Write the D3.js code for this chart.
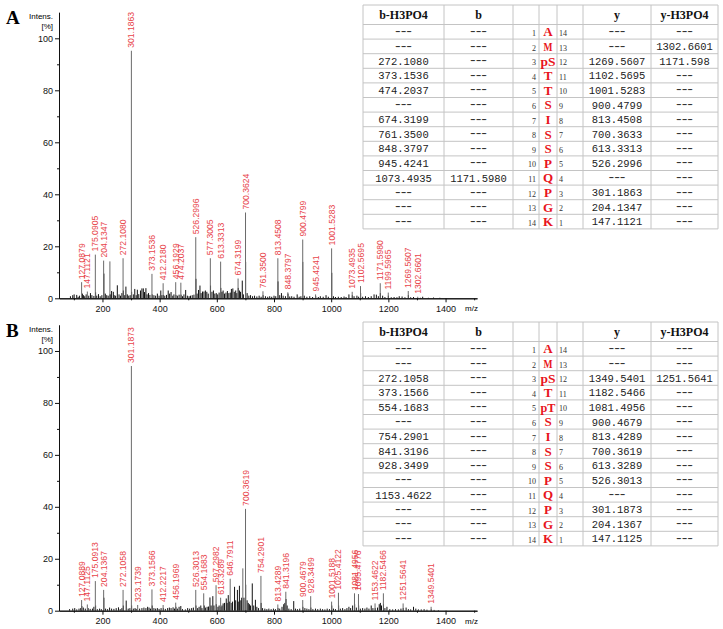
<!DOCTYPE html>
<html><head><meta charset="utf-8">
<script src="https://cdn.jsdelivr.net/npm/d3@7"></script>
<style>body{margin:0;background:#fff}</style>
</head><body>
<script>
// ---------------- DATA ----------------
// Panel A labelled peaks [m/z, intensity %]
const peaksA = [[127.0879,6.2],[147.1121,2.6],[175.0905,16.8],[204.1347,14.5],[272.1080,15.4],[301.1863,95.2],[373.1536,9.4],[412.2180,5.8],[456.1929,6.2],[474.2037,6.0],[526.2996,23.5],[577.3005,15.4],[613.3313,14.1],[674.3199,7.6],[700.3624,33.0],[761.3500,2.7],[813.4508,15.4],[848.3797,2.3],[900.4799,22.6],[945.4241,1.5],[1001.5283,19.2],[1073.4935,2.5],[1102.5695,4.7],[1171.5980,5.8],[1199.5965,2.2],[1269.5607,2.8],[1302.6601,0.6]];
// Panel A unlabelled peaks
const minorA = [[226,14.2],[689,6.8],[88,0.8],[96,1.2],[101,1.5],[110,1.3],[115,0.6],[120,1.0],[130,1.8],[134,1.2],[138,0.8],[143,1.5],[152,1.0],[158,2.0],[163,1.2],[170,0.9],[176,2.3],[180,1.0],[186,1.6],[192,0.8],[198,1.2],[205,9.5],[210,1.8],[215,1.2],[220,1.0],[227,1.5],[232,2.8],[238,2.5],[241,1.2],[246,1.0],[252,5.0],[258,1.5],[263,1.0],[268,2.0],[273,3.0],[278,1.2],[282,4.5],[287,1.5],[292,1.0],[297,1.2],[302,2.5],[308,1.5],[313,3.6],[318,1.2],[322,3.3],[327,1.6],[333,3.0],[338,3.8],[343,3.8],[347,2.4],[352,3.9],[356,1.5],[361,2.0],[366,1.3],[374,1.5],[380,1.2],[386,1.0],[392,1.8],[398,1.0],[404,3.0],[408,1.2],[413,1.3],[418,1.0],[424,1.3],[430,3.0],[435,1.8],[440,2.4],[446,1.0],[450,1.5],[457,1.3],[462,1.0],[468,1.4],[475,1.4],[480,0.8],[485,1.5],[491,3.2],[497,1.0],[503,0.8],[508,1.0],[514,1.2],[520,1.4],[527,7.5],[531,1.8],[536,3.2],[541,4.9],[545,2.0],[550,2.6],[555,2.6],[560,3.0],[565,2.5],[570,1.8],[578,4.9],[583,2.5],[588,3.0],[593,1.8],[598,2.0],[603,1.5],[608,2.2],[614,4.0],[618,2.5],[622,3.0],[627,1.8],[632,2.2],[637,2.8],[642,2.0],[647,2.2],[651,3.6],[656,3.8],[661,2.5],[666,3.0],[670,2.0],[675,4.0],[679,3.0],[683,2.5],[693,1.5],[701,14.0],[706,2.0],[712,1.0],[718,1.2],[725,0.8],[732,1.0],[740,0.7],[748,1.0],[755,0.6],[762,1.2],[770,0.8],[778,0.6],[785,0.8],[792,0.6],[800,1.0],[806,0.8],[814,6.5],[820,1.2],[826,2.0],[832,1.0],[840,0.8],[849,1.8],[855,0.7],[862,0.8],[870,0.6],[881,1.5],[888,0.6],[894,0.8],[901,14.0],[906,1.0],[915,0.6],[925,0.8],[935,0.5],[946,0.8],[955,0.5],[962,0.8],[972,0.6],[982,1.2],[990,0.6],[1002,9.8],[1008,0.8],[1015,0.5],[1025,0.6],[1035,0.5],[1045,0.7],[1052,0.5],[1062,1.5],[1074,1.2],[1080,0.8],[1090,1.0],[1096,0.6],[1103,2.0],[1110,0.6],[1120,0.8],[1130,0.5],[1140,0.8],[1150,1.5],[1158,1.4],[1165,0.8],[1172,2.0],[1180,1.0],[1188,0.5],[1200,1.0],[1210,0.4],[1220,0.5],[1230,0.4],[1238,0.8],[1248,0.7],[1258,0.4],[1270,1.2],[1278,0.4],[1288,0.5],[1312,0.2],[1320,0.6],[1340,0.2],[1358,0.3],[1380,0.2]];

// Panel B labelled peaks
const peaksB = [[127.0889,4.1],[147.1125,2.4],[175.0913,11.4],[204.1367,8.0],[272.1058,8.0],[301.1873,94.2],[323.1739,2.2],[373.1566,8.2],[412.2217,2.2],[456.1969,3.1],[526.3013,8.0],[554.1683,6.7],[597.2982,9.8],[613.3289,5.0],[646.7911,12.3],[700.3619,39.2],[754.2901,13.4],[813.4289,2.4],[841.3196,7.3],[900.4679,4.1],[928.3499,5.6],[1001.5188,3.5],[1025.4122,6.9],[1081.4956,6.7],[1095.4776,6.4],[1153.4622,2.8],[1182.5466,6.7],[1251.5641,2.8],[1349.5401,1.5]];
// Panel B unlabelled peaks
const minorB = [[85,0.6],[96,0.8],[103,1.0],[110,0.5],[118,0.8],[124,1.0],[128,1.8],[133,1.2],[140,0.8],[150,1.0],[157,0.7],[165,0.8],[170,1.5],[176,2.0],[182,0.6],[190,0.8],[196,0.6],[205,5.0],[211,0.8],[218,0.6],[225,1.2],[232,0.8],[240,0.7],[248,1.0],[256,1.3],[262,0.6],[268,1.0],[273,2.0],[283,3.9],[290,0.8],[296,1.0],[302,2.0],[308,0.8],[314,1.0],[318,0.7],[330,0.8],[338,1.0],[345,1.2],[352,1.0],[358,1.5],[363,1.2],[368,0.8],[374,2.0],[380,1.0],[386,0.8],[392,1.0],[398,0.7],[405,1.0],[413,1.0],[420,0.7],[428,1.0],[434,1.2],[440,1.0],[447,1.3],[452,0.8],[457,1.5],[462,0.8],[468,1.5],[474,1.8],[480,0.6],[490,0.5],[498,1.0],[505,0.8],[512,1.0],[518,1.2],[527,2.0],[533,1.0],[538,1.5],[544,2.0],[548,1.0],[556,2.0],[560,1.2],[566,1.5],[571,1.6],[576,5.1],[580,2.0],[586,5.6],[590,2.0],[598,2.5],[604,1.5],[608,2.0],[614,1.5],[618,2.0],[622,2.8],[627,3.0],[633,4.7],[636,3.0],[640,6.0],[644,3.5],[650,3.0],[655,3.5],[662,9.2],[666,4.0],[672,8.0],[675,3.5],[679,9.6],[684,4.0],[687,5.0],[691,16.3],[695,5.0],[701,10.0],[706,4.0],[710,3.0],[714,2.5],[718,2.0],[724,10.5],[729,2.0],[735,4.2],[740,1.5],[746,1.0],[755,3.0],[760,1.0],[768,0.8],[775,0.6],[782,0.8],[790,0.6],[798,0.8],[805,0.6],[814,1.0],[820,0.8],[828,1.5],[834,2.5],[838,3.0],[842,4.5],[846,2.0],[852,0.8],[860,0.6],[869,3.7],[875,0.8],[882,0.6],[890,0.8],[901,1.5],[908,1.0],[915,0.8],[922,0.6],[929,1.2],[936,0.6],[945,0.8],[953,0.6],[962,0.8],[970,0.6],[978,0.5],[986,0.8],[994,0.6],[1002,2.0],[1008,0.8],[1015,0.6],[1026,2.0],[1032,0.8],[1040,1.0],[1048,0.6],[1055,1.0],[1062,1.5],[1068,1.0],[1075,2.0],[1082,2.5],[1088,1.2],[1096,2.0],[1102,0.8],[1110,1.0],[1118,0.8],[1125,1.2],[1132,0.8],[1140,2.0],[1146,1.0],[1154,1.0],[1162,1.2],[1168,2.5],[1172,3.0],[1176,2.0],[1183,2.5],[1188,1.0],[1195,1.5],[1205,0.6],[1215,0.5],[1225,0.6],[1235,0.5],[1244,0.8],[1252,1.0],[1262,1.2],[1270,0.6],[1278,0.5],[1288,1.5],[1296,0.8],[1305,0.5],[1315,0.5],[1325,0.6],[1335,0.4],[1350,0.5],[1360,0.3],[1375,0.2]];

// Axis ticks
const yMajorTicks = [0,20,40,60,80,100];
const yMinorTicks = [10,30,50,70,90];
const xMajorTicks = [200,400,600,800,1000,1200,1400];
const xMinorTicks = [100,300,500,700,900,1100,1300,1500];

// Table data
const tableHeader = ["b-H3PO4","b","","","","y","y-H3PO4"];
const posN = [1,2,3,4,5,6,7,8,9,10,11,12,13,14];
const posC = [14,13,12,11,10,9,8,7,6,5,4,3,2,1];
const residuesA = ["A","M","pS","T","T","S","I","S","S","P","Q","P","G","K"];
const bH3PO4A = ["---","---","272.1080","373.1536","474.2037","---","674.3199","761.3500","848.3797","945.4241","1073.4935","---","---","---"];
const bA = ["---","---","---","---","---","---","---","---","---","---","1171.5980","---","---","---"];
const yA = ["---","---","1269.5607","1102.5695","1001.5283","900.4799","813.4508","700.3633","613.3313","526.2996","---","301.1863","204.1347","147.1121"];
const yH3PO4A = ["---","1302.6601","1171.598","---","---","---","---","---","---","---","---","---","---","---"];
const residuesB = ["A","M","pS","T","pT","S","I","S","S","P","Q","P","G","K"];
const bH3PO4B = ["---","---","272.1058","373.1566","554.1683","---","754.2901","841.3196","928.3499","---","1153.4622","---","---","---"];
const bB = ["---","---","---","---","---","---","---","---","---","---","---","---","---","---"];
const yB = ["---","---","1349.5401","1182.5466","1081.4956","900.4679","813.4289","700.3619","613.3289","526.3013","---","301.1873","204.1367","147.1125"];
const yH3PO4B = ["---","---","1251.5641","---","---","---","---","---","---","---","---","---","---","---"];

// ---------------- DRAW ----------------
const svg = d3.select("body").append("svg").attr("width",723).attr("height",629)
  .style("font-family","'Liberation Sans', Arial, sans-serif");

function spectrum(letter, top, base, major, minor) {
  const x = d3.scaleLinear().domain([48,1510]).range([59,477]);
  const y = d3.scaleLinear().domain([0,110]).range([base, top]);
  const g = svg.append("g");
  g.selectAll("line.mn").data(minor).join("line").attr("class","mn")
    .attr("x1",d=>x(d[0])).attr("x2",d=>x(d[0]))
    .attr("y1",y(0)).attr("y2",d=>y(d[1]))
    .attr("stroke", d=>d[1]>12?"#6a6a6a":"#111").attr("stroke-width",1);
  g.selectAll("line.mj").data(major).join("line").attr("class","mj")
    .attr("x1",d=>x(d[0])).attr("x2",d=>x(d[0]))
    .attr("y1",y(0)).attr("y2",d=>y(d[1]))
    .attr("stroke","#6a6a6a").attr("stroke-width",1);
  g.selectAll("text.lb").data(major).join("text").attr("class","lb")
    .attr("transform",d=>`translate(${x(d[0])},${y(d[1])-3}) rotate(-90)`)
    .attr("dy","0.35em").attr("font-size",8.6).attr("fill","#e8454b")
    .text(d=>d[0].toFixed(4));
  g.append("g").attr("transform","translate(59,0)")
    .call(d3.axisLeft(y).tickValues(yMajorTicks).tickSize(4).tickSizeOuter(0).tickPadding(2).tickFormat(d3.format("d")));
  g.append("g").attr("transform","translate(59,0)")
    .call(d3.axisLeft(y).tickValues(yMinorTicks).tickSize(2).tickSizeOuter(0).tickFormat(""));
  g.append("g").attr("transform",`translate(0,${y(0)})`)
    .call(d3.axisBottom(x).tickValues(xMajorTicks).tickSize(4).tickSizeOuter(0).tickPadding(3).tickFormat(d3.format("d")));
  g.append("g").attr("transform",`translate(0,${y(0)})`)
    .call(d3.axisBottom(x).tickValues(xMinorTicks).tickSize(2).tickSizeOuter(0).tickFormat(""));
  g.selectAll(".tick text").attr("font-size",9).attr("font-family","'Liberation Sans', Arial, sans-serif").attr("fill","#111");
  g.selectAll(".domain, .tick line").attr("stroke","#111");
  g.append("text").attr("x",53).attr("y",top+7).attr("text-anchor","end").attr("font-size",8).text("Intens.");
  g.append("text").attr("x",53).attr("y",top+16.8).attr("text-anchor","end").attr("font-size",8).text("[%]");
  g.append("text").attr("x",465).attr("y",y(0)+12.8).attr("font-size",8).text("m/z");
  svg.append("text").attr("x",6).attr("y",top+12).attr("font-family","'Liberation Serif', 'Times New Roman', serif")
    .attr("font-weight","bold").attr("font-size",19).text(letter);
}

spectrum("A", 12.3, 298.3, peaksA, minorA);
spectrum("B", 325, 610.7, peaksB, minorB);

function table(top, bH, b, res, yv, yH) {
  const edges = [363,444,513,539,557,583,651,718];
  const headH = 19.5, rowH = 14.6;
  const g = svg.append("g");
  const rowsY = d3.range(15).map(i => i===0 ? top : top+headH+(i-1)*rowH);
  rowsY.push(top+headH+14*rowH);
  g.selectAll("line.h").data(rowsY).join("line").attr("class","h")
    .attr("x1",edges[0]).attr("x2",edges[7]).attr("y1",d=>d).attr("y2",d=>d)
    .attr("stroke","#c4c4c4").attr("stroke-width",1);
  g.selectAll("line.v").data(edges).join("line").attr("class","v")
    .attr("x1",d=>d).attr("x2",d=>d).attr("y1",top).attr("y2",rowsY[15])
    .attr("stroke","#c4c4c4").attr("stroke-width",1);
  const cx = i => (edges[i]+edges[i+1])/2;
  g.selectAll("text.hd").data(tableHeader).join("text").attr("class","hd")
    .attr("x",(d,i)=>cx(i)).attr("y",top+14).attr("text-anchor","middle")
    .attr("font-family","'Liberation Serif','Times New Roman',serif").attr("font-weight","bold")
    .attr("font-size",12).attr("fill","#111").text(d=>d);
  const rowTop = i => top+headH+i*rowH;
  const mono = "'Liberation Mono', 'DejaVu Sans Mono', monospace";
  [[bH,0],[b,1],[yv,5],[yH,6]].forEach(([arr,c]) => {
    const t = g.selectAll(null).data(arr).join("text")
      .attr("x",cx(c)).attr("y",(d,i)=>rowTop(i)+11).attr("text-anchor","middle")
      .attr("font-family",mono).attr("font-size",10.5).attr("fill","#222").text(d=>d);
    t.filter(d=>d==="---").attr("font-family","'Liberation Sans',sans-serif").attr("font-size",12)
      .attr("y",(d,i,n)=>+d3.select(n[i]).attr("y")-0.5)
      .attr("textLength",17).attr("lengthAdjust","spacingAndGlyphs").attr("fill","#333");
  });
  g.selectAll(null).data(posN).join("text")
    .attr("x",536).attr("y",(d,i)=>rowTop(i)+11.5).attr("text-anchor","end")
    .attr("font-family","'Liberation Serif',serif").attr("font-size",8).attr("fill","#333").text(d=>d);
  g.selectAll(null).data(posC).join("text")
    .attr("x",559).attr("y",(d,i)=>rowTop(i)+11.5).attr("text-anchor","start")
    .attr("font-family","'Liberation Serif',serif").attr("font-size",8).attr("fill","#333").text(d=>d);
  const r = g.selectAll(null).data(res).join("text")
    .attr("x",548).attr("y",(d,i)=>rowTop(i)+11.8).attr("text-anchor","middle")
    .attr("font-family","'Liberation Serif','Times New Roman',serif").attr("font-weight","bold")
    .attr("font-size",13).attr("fill","#e8141c").text(d=>d);
  r.filter(d=>d.length>1).attr("textLength",15).attr("lengthAdjust","spacingAndGlyphs");
  r.filter(d=>d==="M").attr("textLength",9).attr("lengthAdjust","spacingAndGlyphs");
}

table(5, bH3PO4A, bA, residuesA, yA, yH3PO4A);
table(322, bH3PO4B, bB, residuesB, yB, yH3PO4B);
</script>
</body></html>
